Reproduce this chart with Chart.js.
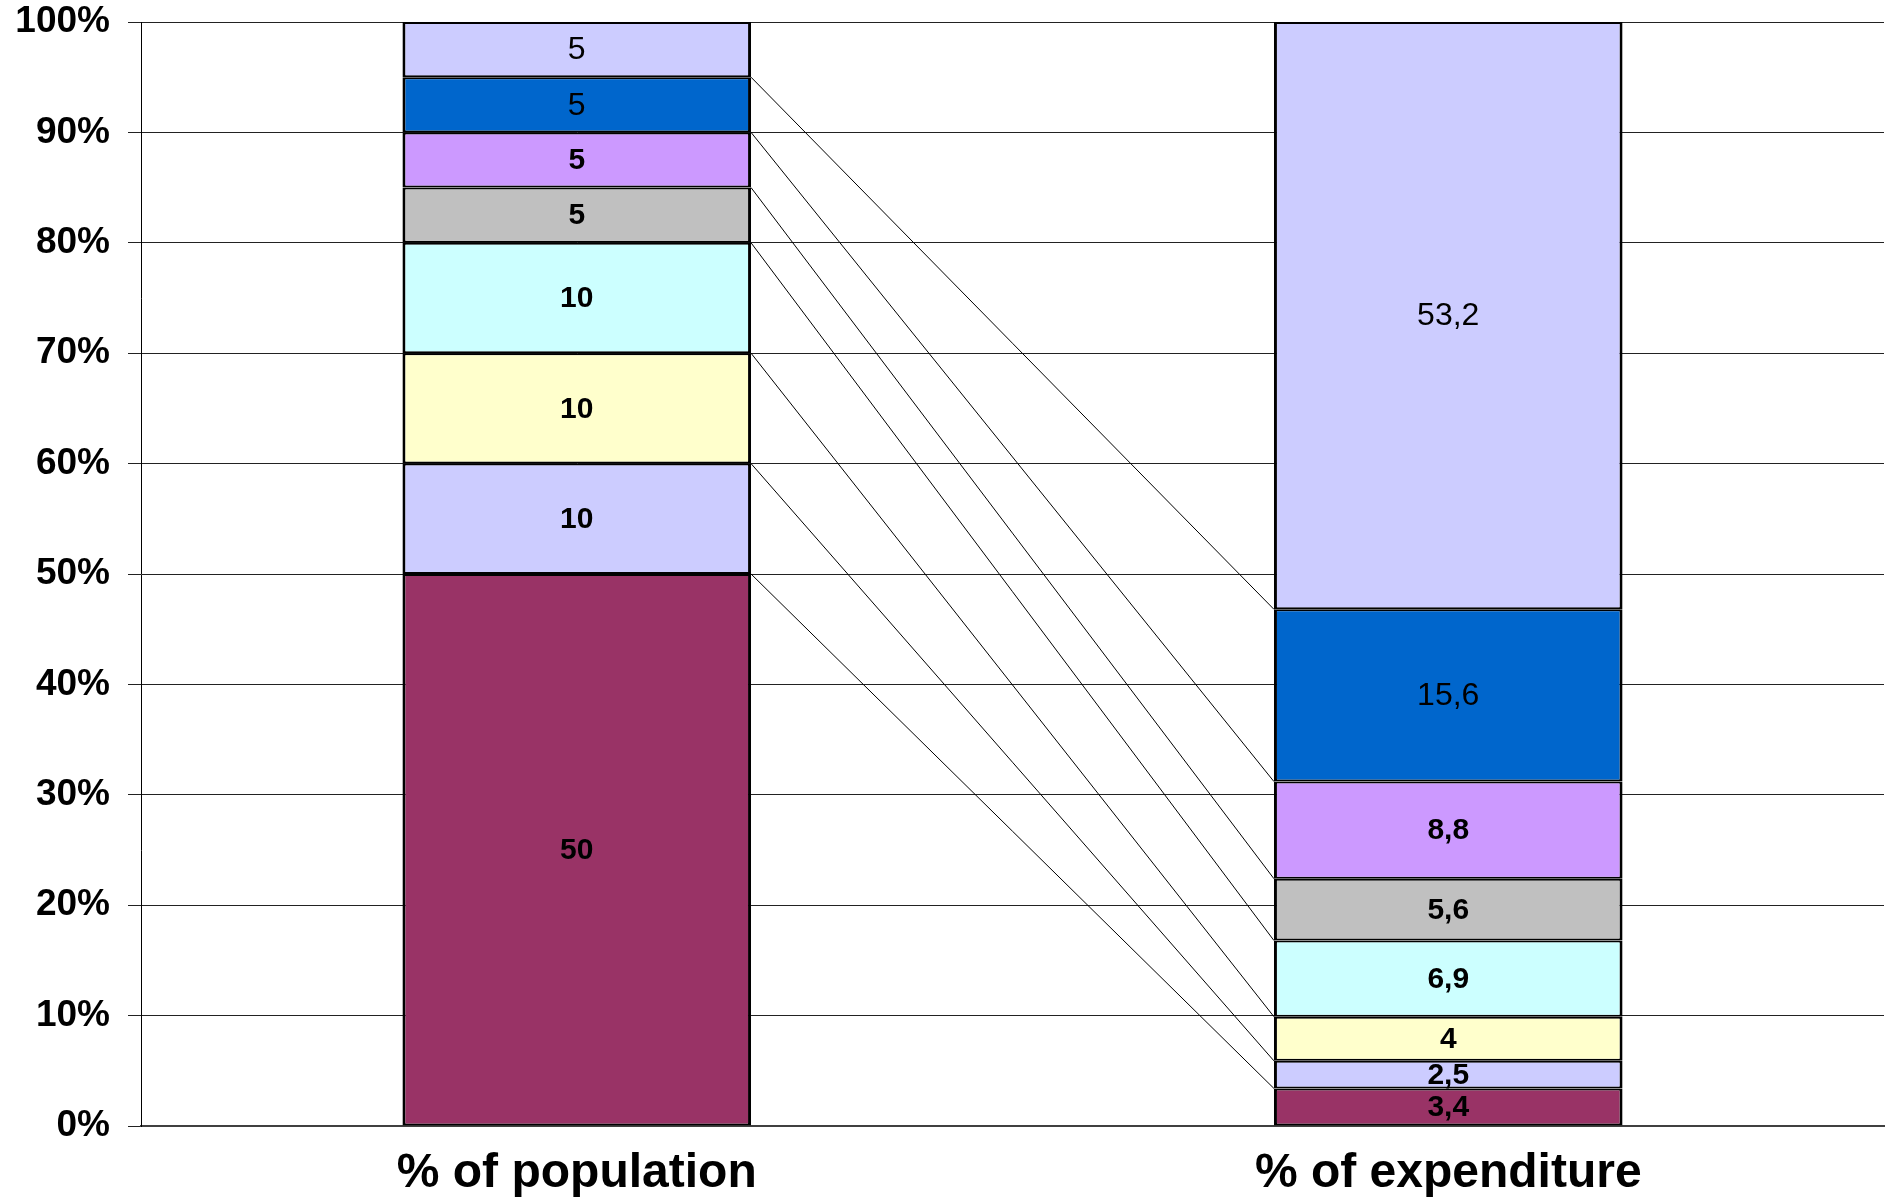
<!DOCTYPE html>
<html>
<head>
<meta charset="utf-8">
<script src="https://cdn.jsdelivr.net/npm/chart.js@4.4.1/dist/chart.umd.min.js"></script>
<style>
  html, body { margin: 0; padding: 0; background: #fff; }
  #wrap { width: 1888px; height: 1197px; position: relative; }
</style>
</head>
<body>
<div id="wrap"><canvas id="c"></canvas></div>
<script>
const categories = ['% of population', '% of expenditure'];
const yTickLabels = ['0%', '10%', '20%', '30%', '40%', '50%', '60%', '70%', '80%', '90%', '100%'];

// series, bottom to top
const seriesMaroon   = [50, 3.4];
const seriesLavender = [10, 2.5];
const seriesYellow   = [10, 4];
const seriesCyan     = [10, 6.9];
const seriesGrey     = [5, 5.6];
const seriesPurple   = [5, 8.8];
const seriesBlue     = [5, 15.6];
const seriesTop      = [5, 53.2];

const seriesList = [seriesMaroon, seriesLavender, seriesYellow, seriesCyan, seriesGrey, seriesPurple, seriesBlue, seriesTop];
const seriesColors = ['#993366', '#CCCCFF', '#FFFFCC', '#CCFFFF', '#C0C0C0', '#CC99FF', '#0066CC', '#CCCCFF'];
const seriesBold = [true, true, true, true, true, true, false, false];

const FONT = '"Liberation Sans", Arial, sans-serif';

const datasets = seriesList.map((d, i) => ({
  label: 'S' + (i + 1),
  data: d,
  backgroundColor: seriesColors[i],
  borderColor: '#000',
  borderWidth: { top: 2, bottom: 2, left: 3, right: 3 },
  borderSkipped: false,
  barPercentage: 0.4,
  categoryPercentage: 1.0
}));

const connectorPlugin = {
  id: 'connectors',
  beforeDatasetsDraw(chart) {
    const ctx = chart.ctx;
    const n = chart.data.datasets.length;
    ctx.save();
    ctx.strokeStyle = '#000';
    ctx.lineWidth = 1;
    for (let i = 0; i < n - 1; i++) {
      const meta = chart.getDatasetMeta(i);
      const a = meta.data[0], b = meta.data[1];
      const ax = a.x + a.width / 2;
      const bx = b.x - b.width / 2;
      ctx.beginPath();
      ctx.moveTo(ax, a.y);
      ctx.lineTo(bx, b.y);
      ctx.stroke();
    }
    ctx.restore();
  }
};

const labelPlugin = {
  id: 'seglabels',
  afterDatasetsDraw(chart) {
    const ctx = chart.ctx;
    ctx.save();
    ctx.textAlign = 'center';
    ctx.textBaseline = 'middle';
    ctx.fillStyle = '#000';
    chart.data.datasets.forEach((ds, i) => {
      const meta = chart.getDatasetMeta(i);
      ctx.font = seriesBold[i] ? 'bold 30px ' + FONT : '32px ' + FONT;
      meta.data.forEach((el, j) => {
        const v = ds.data[j];
        const txt = String(v).replace('.', ',');
        ctx.fillText(txt, el.x, (el.y + el.base) / 2 + 1);
      });
    });
    ctx.restore();
  }
};

new Chart(document.getElementById('c'), {
  type: 'bar',
  data: { labels: categories, datasets },
  plugins: [connectorPlugin, labelPlugin],
  options: {
    responsive: true,
    maintainAspectRatio: false,
    animation: false,
    layout: { padding: { left: 15, right: 4, top: 22, bottom: 0 } },
    plugins: { legend: { display: false }, tooltip: { enabled: false } },
    scales: {
      x: {
        stacked: true,
        grid: { display: false, drawTicks: false },
        border: { display: true, color: '#404040', width: 2 },
        ticks: { padding: 19, color: '#000', font: { family: FONT, size: 48, weight: 'bold' } },
        afterFit: (s) => { s.height = 71; s.paddingLeft = 0; s.paddingRight = 0; }
      },
      y: {
        stacked: true,
        min: 0, max: 100,
        grid: { color: '#222', lineWidth: 1, tickLength: 13, drawTicks: true },
        border: { display: true, color: '#000', width: 1 },
        ticks: {
          stepSize: 10,
          padding: 18,
          color: '#000',
          font: { family: FONT, size: 37, weight: 'bold' },
          callback: (v) => yTickLabels[Math.round(v / 10)]
        },
        afterFit: (s) => { s.width = 126; s.paddingTop = 0; s.paddingBottom = 0; }
      }
    }
  }
});
</script>
</body>
</html>
